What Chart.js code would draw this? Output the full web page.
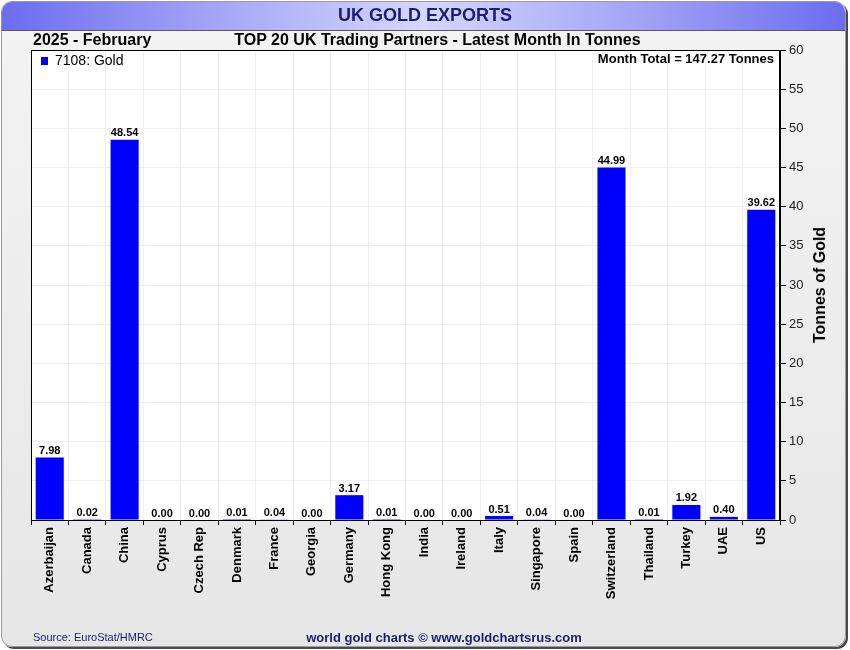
<!DOCTYPE html>
<html>
<head>
<meta charset="utf-8">
<script src="https://cdn.jsdelivr.net/npm/chart.js@4/dist/chart.umd.min.js"></script>
<style>
  html, body { margin: 0; padding: 0; background: #ffffff; }
  #wrap { position: relative; width: 850px; height: 650px; overflow: hidden; font-family: "Liberation Sans", Arial, sans-serif; }
  #frame { position: absolute; left: 1px; top: 1px; width: 843px; height: 644px; border: 1px solid #9a9a9a; border-radius: 11px;
    box-shadow: 2px 2px 0 #4a4a4a; background: linear-gradient(180deg, #f3f3f3 0%, #e6e6e6 100%); overflow: hidden; }
  #header { position: absolute; left: 0; top: 0; width: 100%; height: 28px; border-bottom: 1px solid #5a5a5a;
    background: linear-gradient(90deg, #6c6cf0 0%, #a4a4f8 25%, #d6d6ff 50%, #a4a4f8 75%, #6c6cf0 100%); }
  .t { position: absolute; white-space: nowrap; }
  #title { left: 0; width: 850px; top: 5px; text-align: center; font-size: 18px; font-weight: bold; color: #1c1c70; }
  #sub1 { left: 33px; top: 31px; font-size: 16px; font-weight: bold; color: #000; }
  #sub2 { left: 0; width: 875px; top: 31px; text-align: center; font-size: 16px; font-weight: bold; color: #000; }
  #legend { left: 41px; top: 52px; font-size: 14px; color: #000; }
  #legend span.box { display: inline-block; width: 7px; height: 8px; background: #0000ff; margin-right: 7px; vertical-align: 0px; }
  #total { left: 0; width: 774px; top: 51px; text-align: right; font-size: 13px; font-weight: bold; color: #000; }
  #ytitle { left: 820px; top: 285px; font-size: 16px; font-weight: bold; color: #000; transform: translate(-50%, -50%) rotate(-90deg); }
  #src { left: 33px; top: 631px; font-size: 11px; color: #1c1c70; }
  #foot { left: 0; width: 888px; top: 630px; text-align: center; font-size: 13px; font-weight: bold; color: #1c1c70; }
  canvas { position: absolute; left: 0; top: 0; }
</style>
</head>
<body>
<div id="wrap">
  <div id="frame"><div id="header"></div></div>
  <canvas id="c" width="850" height="650"></canvas>
  <div class="t" id="title">UK GOLD EXPORTS</div>
  <div class="t" id="sub1">2025 - February</div>
  <div class="t" id="sub2">TOP 20 UK Trading Partners - Latest Month In Tonnes</div>
  <div class="t" id="legend"><span class="box"></span>7108: Gold</div>
  <div class="t" id="total">Month Total = 147.27 Tonnes</div>
  <div class="t" id="ytitle">Tonnes of Gold</div>
  <div class="t" id="src">Source: EuroStat/HMRC</div>
  <div class="t" id="foot">world gold charts © www.goldchartsrus.com</div>
</div>
<script>
const countries = ["Azerbaijan","Canada","China","Cyprus","Czech Rep","Denmark","France","Georgia","Germany","Hong Kong",
  "India","Ireland","Italy","Singapore","Spain","Switzerland","Thailand","Turkey","UAE","US"];
const goldTonnes = [7.98,0.02,48.54,0.00,0.00,0.01,0.04,0.00,3.17,0.01,
  0.00,0.00,0.51,0.04,0.00,44.99,0.01,1.92,0.40,39.62];
const yTicks = [0,5,10,15,20,25,30,35,40,45,50,55,60];

const FONT = "'Liberation Sans', Arial, sans-serif";

const borderPlugin = {
  id: 'areaBorder',
  afterDatasetsDraw(chart) {
    const {ctx} = chart;
    ctx.save();
    ctx.font = "bold 11px " + FONT;
    ctx.fillStyle = '#000';
    ctx.textAlign = 'center';
    ctx.textBaseline = 'bottom';
    const meta = chart.getDatasetMeta(0);
    meta.data.forEach((bar, i) => {
      ctx.fillText(goldTonnes[i].toFixed(2), bar.x, bar.y - 1);
    });
    ctx.restore();
  },
  afterDraw(chart) {
    const {ctx, chartArea: a} = chart;
    ctx.save();
    ctx.strokeStyle = '#000';
    ctx.lineWidth = 1;
    ctx.strokeRect(Math.round(a.left) + 0.5, Math.round(a.top) + 0.5, Math.round(a.right - a.left) - 1, Math.round(a.bottom - a.top));
    ctx.restore();
  }
};

const bgPlugin = {
  id: 'plotBg',
  beforeDraw(chart) {
    const {ctx, chartArea: a} = chart;
    ctx.save();
    ctx.fillStyle = '#ffffff';
    ctx.fillRect(a.left, a.top, a.right - a.left, a.bottom - a.top);
    ctx.restore();
  }
};

new Chart(document.getElementById('c'), {
  type: 'bar',
  data: {
    labels: countries,
    datasets: [{
      label: '7108: Gold',
      data: goldTonnes,
      backgroundColor: '#0000ff',
      borderWidth: 0,
      categoryPercentage: 1.0,
      barPercentage: 0.75
    }]
  },
  options: {
    responsive: false,
    animation: false,
    layout: { padding: { left: 31, top: 50, right: 8, bottom: 40 } },
    plugins: { legend: { display: false }, tooltip: { enabled: false }, title: { display: false } },
    scales: {
      x: {
        offset: true,
        grid: { offset: true, color: '#edf0f5', tickColor: '#000', tickLength: 5, drawTicks: true },
        border: { color: '#000' },
        ticks: { minRotation: 90, maxRotation: 90, autoSkip: false, padding: 2, color: '#000',
          font: { family: FONT, size: 13, weight: 'bold' } },
        afterFit(scale) { scale.height = 90; }
      },
      y: {
        position: 'right',
        min: 0, max: 60,
        afterBuildTicks(scale) { scale.ticks = yTicks.map(v => ({ value: v })); },
        grid: { color: '#edf0f5', tickColor: '#000', tickLength: 6 },
        border: { color: '#000' },
        ticks: { padding: 3, color: '#222', font: { family: FONT, size: 13 } },
        afterFit(scale) { scale.width = 62; }
      }
    }
  },
  plugins: [bgPlugin, borderPlugin]
});
</script>
</body>
</html>
